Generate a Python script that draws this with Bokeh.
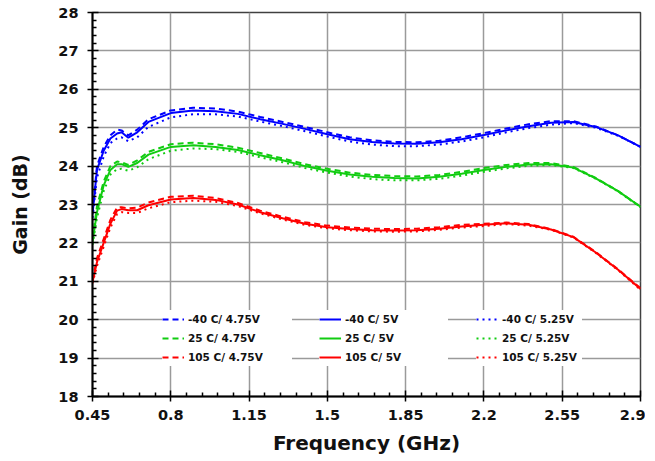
from bokeh.plotting import figure
from bokeh.models import FixedTicker, Legend, LegendItem, Range1d
from bokeh.embed import file_html
from bokeh.resources import INLINE

# ---------------- data ----------------
freq = [0.45, 0.47, 0.50, 0.53, 0.56, 0.58, 0.61, 0.65, 0.70, 0.80, 0.90, 1.00, 1.10,
        1.20, 1.30, 1.40, 1.50, 1.60, 1.70, 1.80, 1.90, 2.00, 2.10, 2.20, 2.30, 2.40,
        2.50, 2.60, 2.70, 2.80, 2.90]

m40_475 = [22.80, 24.00, 24.50, 24.80, 24.95, 24.93, 24.80, 24.95, 25.22, 25.45, 25.52, 25.50,
           25.42, 25.28, 25.15, 25.02, 24.88, 24.75, 24.67, 24.63, 24.62, 24.66, 24.75, 24.86,
           24.98, 25.09, 25.17, 25.17, 25.03, 24.80, 24.50]
m40_500 = [22.75, 23.90, 24.40, 24.72, 24.85, 24.88, 24.74, 24.88, 25.15, 25.38, 25.45, 25.43,
           25.36, 25.22, 25.10, 24.97, 24.83, 24.70, 24.63, 24.59, 24.58, 24.62, 24.70, 24.81,
           24.93, 25.04, 25.13, 25.15, 25.02, 24.80, 24.50]
m40_525 = [22.65, 23.70, 24.25, 24.60, 24.72, 24.75, 24.65, 24.75, 25.02, 25.27, 25.35, 25.35,
           25.29, 25.16, 25.04, 24.91, 24.77, 24.64, 24.56, 24.52, 24.52, 24.56, 24.64, 24.75,
           24.88, 24.99, 25.08, 25.12, 25.00, 24.79, 24.50]

p25_475 = [22.10, 22.95, 23.60, 24.00, 24.12, 24.10, 24.03, 24.15, 24.37, 24.57, 24.61, 24.57,
           24.48, 24.34, 24.20, 24.05, 23.93, 23.83, 23.77, 23.74, 23.73, 23.77, 23.85, 23.95,
           24.03, 24.08, 24.08, 23.98, 23.69, 23.35, 22.94]
p25_500 = [22.02, 22.80, 23.50, 23.90, 24.05, 24.05, 23.98, 24.08, 24.30, 24.50, 24.54, 24.50,
           24.42, 24.28, 24.15, 24.00, 23.88, 23.78, 23.72, 23.69, 23.68, 23.72, 23.80, 23.90,
           23.98, 24.04, 24.05, 23.96, 23.68, 23.35, 22.94]
p25_525 = [21.95, 22.65, 23.35, 23.78, 23.92, 23.93, 23.88, 23.97, 24.18, 24.40, 24.46, 24.44,
           24.37, 24.23, 24.10, 23.95, 23.83, 23.73, 23.66, 23.63, 23.63, 23.67, 23.75, 23.85,
           23.94, 24.01, 24.03, 23.95, 23.67, 23.34, 22.93]

p105_475 = [21.02, 21.60, 22.10, 22.60, 22.92, 22.93, 22.90, 22.92, 23.05, 23.20, 23.23, 23.17,
            23.04, 22.84, 22.68, 22.54, 22.45, 22.40, 22.37, 22.36, 22.37, 22.41, 22.47, 22.50,
            22.53, 22.49, 22.36, 22.16, 21.76, 21.31, 20.82]
p105_500 = [20.98, 21.50, 22.00, 22.50, 22.84, 22.88, 22.85, 22.85, 22.98, 23.13, 23.17, 23.12,
            23.00, 22.80, 22.64, 22.50, 22.41, 22.36, 22.33, 22.32, 22.33, 22.37, 22.43, 22.47,
            22.51, 22.47, 22.35, 22.15, 21.75, 21.30, 20.80]
p105_525 = [20.95, 21.40, 21.90, 22.40, 22.75, 22.80, 22.78, 22.78, 22.90, 23.06, 23.10, 23.07,
            22.96, 22.77, 22.61, 22.47, 22.38, 22.33, 22.30, 22.29, 22.30, 22.34, 22.40, 22.44,
            22.49, 22.45, 22.34, 22.14, 21.74, 21.29, 20.78]

x_ticks = [0.45, 0.8, 1.15, 1.5, 1.85, 2.2, 2.55, 2.9]
x_tick_labels = ["0.45", "0.8", "1.15", "1.5", "1.85", "2.2", "2.55", "2.9"]
y_ticks = [18, 19, 20, 21, 22, 23, 24, 25, 26, 27, 28]
y_tick_labels = ["18", "19", "20", "21", "22", "23", "24", "25", "26", "27", "28"]

labels_475 = ["-40 C/ 4.75V", "25 C/ 4.75V", "105 C/ 4.75V"]
labels_500 = ["-40 C/ 5V", "25 C/ 5V", "105 C/ 5V"]
labels_525 = ["-40 C/ 5.25V", "25 C/ 5.25V", "105 C/ 5.25V"]
colors = ["#0000ff", "#11cc11", "#ff0000"]

# ---------------- figure ----------------
FONT = "DejaVu Sans"
p = figure(output_backend="svg", toolbar_location=None,
           frame_width=548, frame_height=384,
           min_border_left=92, min_border_right=5, min_border_top=12, min_border_bottom=55,
           x_range=Range1d(0.45, 2.9), y_range=Range1d(18, 28),
           background_fill_color="white", border_fill_color="white")

p.outline_line_color = "#404040"
p.outline_line_width = 1.5

x_minor = []
for a, b in zip(x_ticks[:-1], x_ticks[1:]):
    for k in range(1, 5):
        x_minor.append(a + (b - a) * k / 5)
y_minor = []
for a, b in zip(y_ticks[:-1], y_ticks[1:]):
    for k in range(1, 5):
        y_minor.append(a + (b - a) * k / 5)

p.xaxis.ticker = FixedTicker(ticks=x_ticks, minor_ticks=x_minor)
p.yaxis.ticker = FixedTicker(ticks=y_ticks, minor_ticks=y_minor)
p.xaxis.major_label_overrides = {t: s for t, s in zip(x_ticks, x_tick_labels)}
p.yaxis.major_label_overrides = {t: s for t, s in zip(y_ticks, y_tick_labels)}

for ax in (p.xaxis, p.yaxis):
    ax.axis_line_color = "black"
    ax.axis_line_width = 2
    ax.major_tick_line_color = "black"
    ax.major_tick_line_width = 1.5
    ax.minor_tick_line_color = "black"
    ax.minor_tick_line_width = 1.5
    ax.major_tick_in = 6
    ax.major_tick_out = 5
    ax.minor_tick_in = 4
    ax.minor_tick_out = 0
    ax.major_label_text_font = FONT
    ax.major_label_text_font_style = "bold"
    ax.major_label_text_font_size = "14.5px"
    ax.major_label_text_color = "#111111"
    ax.axis_label_text_font = FONT
    ax.axis_label_text_font_style = "bold"
    ax.axis_label_text_color = "#111111"

p.xaxis.axis_label = "Frequency (GHz)"
p.yaxis.axis_label = "Gain (dB)"
p.xaxis.axis_label_text_font_size = "20px"
p.yaxis.axis_label_text_font_size = "19px"
p.xaxis.major_label_standoff = 8
p.yaxis.major_label_standoff = 9
p.xaxis.axis_label_standoff = 8
p.yaxis.axis_label_standoff = 24

p.xgrid.grid_line_color = "#9a9a9a"
p.ygrid.grid_line_color = "#9a9a9a"
p.xgrid.grid_line_width = 1.5
p.ygrid.grid_line_width = 1.5

sets = [
    (m40_475, colors[0], "6 4", labels_475[0]),
    (p25_475, colors[1], "6 4", labels_475[1]),
    (p105_475, colors[2], "6 4", labels_475[2]),
    (m40_500, colors[0], "solid", labels_500[0]),
    (p25_500, colors[1], "solid", labels_500[1]),
    (p105_500, colors[2], "solid", labels_500[2]),
    (m40_525, colors[0], "2 4", labels_525[0]),
    (p25_525, colors[1], "2 4", labels_525[1]),
    (p105_525, colors[2], "2 4", labels_525[2]),
]

renderers = []
for ys, c, dash, lab in sets:
    r = p.line(freq, ys, line_color=c, line_width=2, line_dash=dash)
    renderers.append((lab, r))

def make_legend(items, x, lw):
    leg = Legend(items=[LegendItem(label=l, renderers=[r]) for l, r in items],
                 location=(x, 30), orientation="vertical",
                 background_fill_color="white", background_fill_alpha=1.0,
                 border_line_color=None, padding=8, margin=0, spacing=1,
                 glyph_width=22, glyph_height=18, label_height=18, label_width=lw,
                 label_standoff=4, label_text_font=FONT, label_text_font_style="bold",
                 label_text_font_size="10.5px", label_text_color="#111111")
    return leg

p.add_layout(make_legend(renderers[0:3], 70, 104))
p.add_layout(make_legend(renderers[3:6], 227, 103))
p.add_layout(make_legend(renderers[6:9], 384, 80))

open("out.html", "w").write(file_html(p, INLINE))
